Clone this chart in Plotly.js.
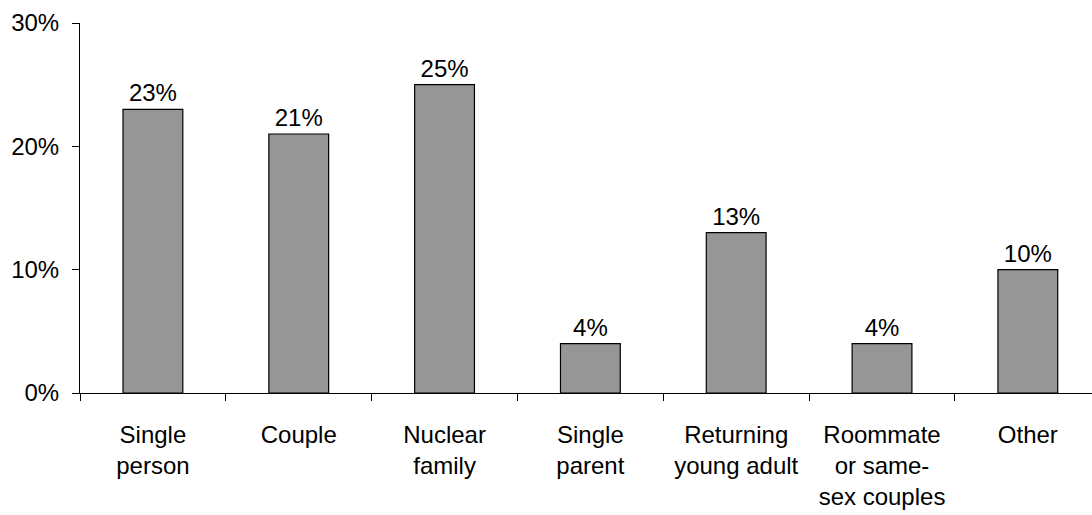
<!DOCTYPE html>
<html>
<head>
<meta charset="utf-8">
<script src="https://cdn.plot.ly/plotly-3.0.1.min.js"></script>
<style>html,body{margin:0;padding:0;background:#fff;}#chart{width:1092px;height:515px;}</style>
</head>
<body>
<div id="chart"></div>
<script>
var categories = ["Single<br>person", "Couple", "Nuclear<br>family", "Single<br>parent", "Returning<br>young adult", "Roommate<br>or same-<br>sex couples", "Other"];
var values = [23, 21, 25, 4, 13, 4, 10];
var valueLabels = ["23%", "21%", "25%", "4%", "13%", "4%", "10%"];
var yTickValues = [0, 10, 20, 30];
var yTickLabels = ["0%", "10%", "20%", "30%"];

var font = "Liberation Sans, Arial, sans-serif";

var trace = {
  type: "bar",
  x: categories,
  y: values,
  text: valueLabels,
  textposition: "outside",
  cliponaxis: false,
  textfont: {family: font, size: 24, color: "#000"},
  width: 0.41,
  marker: {color: "#969696", line: {color: "#000", width: 1.2}},
  hoverinfo: "none"
};

var layout = {
  width: 1092,
  height: 515,
  margin: {l: 80, r: 0, t: 23, b: 121.5, pad: 0},
  paper_bgcolor: "#fff",
  plot_bgcolor: "#fff",
  showlegend: false,
  font: {family: font, size: 24, color: "#000"},
  xaxis: {
    type: "category",
    range: [-0.5, 6.44],
    showline: true,
    linecolor: "#000",
    linewidth: 1,
    ticks: "outside",
    tickson: "boundaries",
    ticklen: 7,
    tickcolor: "#000",
    tickwidth: 1,
    showgrid: false,
    zeroline: false,
    ticklabelstandoff: 20,
    tickfont: {family: font, size: 24, color: "#000"},
    fixedrange: true
  },
  yaxis: {
    range: [0, 30],
    tickvals: yTickValues,
    ticktext: yTickLabels,
    showline: true,
    linecolor: "#000",
    linewidth: 1,
    ticks: "outside",
    ticklen: 7,
    tickcolor: "#000",
    tickwidth: 1,
    showgrid: false,
    zeroline: false,
    ticklabelstandoff: 8,
    tickfont: {family: font, size: 24, color: "#000"},
    fixedrange: true
  }
};

Plotly.newPlot("chart", [trace], layout, {displayModeBar: false, staticPlot: true});
</script>
</body>
</html>
